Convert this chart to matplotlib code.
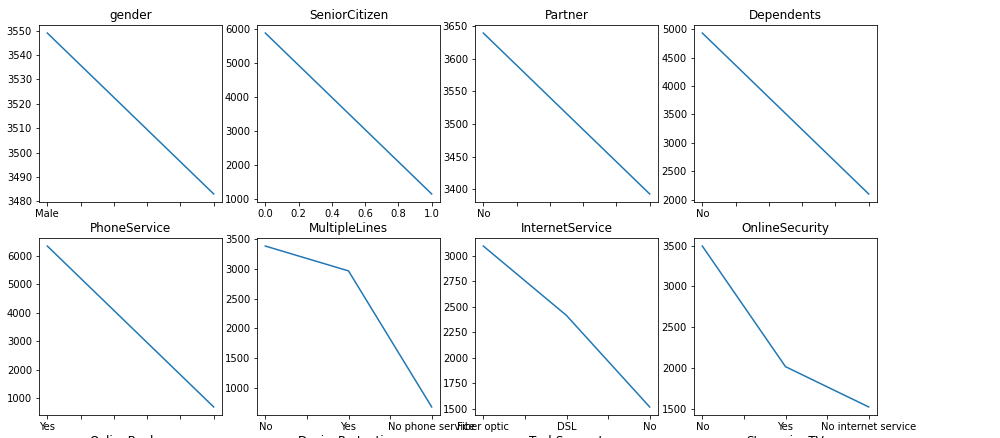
import matplotlib
matplotlib.use("Agg")
import matplotlib.pyplot as plt

titles = ["gender", "SeniorCitizen", "Partner", "Dependents",
          "PhoneService", "MultipleLines", "InternetService", "OnlineSecurity",
          "OnlineBackup", "DeviceProtection", "TechSupport", "StreamingTV"]
cats = [["Male", "Female"], [0, 1], ["No", "Yes"], ["No", "Yes"],
        ["Yes", "No"], ["No", "Yes", "No phone service"],
        ["Fiber optic", "DSL", "No"], ["No", "Yes", "No internet service"],
        ["No", "Yes", "No internet service"], ["No", "Yes", "No internet service"],
        ["No", "Yes", "No internet service"], ["No", "Yes", "No internet service"]]
counts = [[3549, 3483], [5890, 1142], [3639, 3393], [4933, 2099],
          [6352, 680], [3385, 2967, 680], [3096, 2416, 1520], [3497, 2015, 1520],
          [3087, 2425, 1520], [3094, 2418, 1520], [3472, 2040, 1520], [2809, 2703, 1520]]

fig = plt.figure(figsize=(1000/72, 438/72), dpi=72)
lefts = [39, 257, 475, 694]
tops = [25, 238, 451]
w, h = 183, 177
for i, t in enumerate(titles):
    r, c = divmod(i, 4)
    ax = fig.add_axes([lefts[c]/1000, (438 - tops[r] - h)/438, w/1000, h/438])
    vals = counts[i]
    x = list(range(len(vals)))
    ax.plot(x, vals, color="#1f77b4")
    ax.set_title(t)
    if t == "SeniorCitizen":
        ax.set_xticks([0, 0.2, 0.4, 0.6, 0.8, 1.0])
    elif len(vals) == 2:
        ax.set_xticks([0, 0.2, 0.4, 0.6, 0.8, 1.0])
        ax.set_xticklabels([str(cats[i][0]), "", "", "", "", ""])
    else:
        ax.set_xticks([0, 0.5, 1, 1.5, 2])
        ax.set_xticklabels([cats[i][0], "", cats[i][1], "", cats[i][2]])
fig.savefig("out.png", dpi=72)
